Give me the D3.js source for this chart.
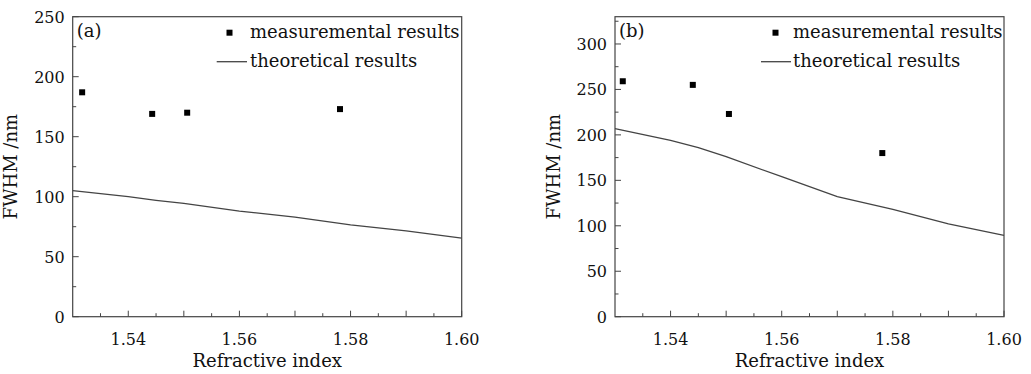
<!DOCTYPE html>
<html lang="en">
  <head>
    <meta charset="utf-8" />
    <title>FWHM vs refractive index</title>
    <script type="text/javascript" src="https://cdn.jsdelivr.net/npm/d3@7"></script>
    <style type="text/css">
      body {
        margin: 0;
        background: #fff;
      }
      text {
        font-family: "DejaVu Serif", serif;
        fill: #111;
      }
      .frame {
        fill: none;
        stroke: #444;
        stroke-width: 1.2;
      }
      .theory {
        fill: none;
        stroke: #444;
        stroke-width: 1.3;
      }
    </style>
  </head>
  <body>
    <script type="text/javascript">
      var w = 1031;
      var h = 374;

      var measIndexA = [1.5317, 1.5443, 1.5506, 1.5781];
      var measFwhmA = [187, 169, 170, 173];
      var measIndexB = [1.5314, 1.544, 1.5505, 1.5781];
      var measFwhmB = [259, 255, 223, 180];

      // theoretical curves
      var theoryIndex = [1.53, 1.54, 1.545, 1.55, 1.56, 1.57, 1.58, 1.59, 1.6];
      var theoryFwhmA = [105, 100, 97, 94.5, 88, 83, 76.5, 71.5, 65.5];
      var theoryFwhmB = [207, 194, 186, 176, 154, 132, 118, 102, 89.5];

      var xTickLabels = [1.54, 1.56, 1.58, 1.6];
      var yTicksA = [0, 50, 100, 150, 200, 250];
      var yTicksB = [0, 50, 100, 150, 200, 250, 300];

      var svg = d3
        .select("body")
        .append("svg")
        .attr("width", w)
        .attr("height", h);

      function drawPanel(opt) {
        var xScale = d3.scaleLinear().domain([1.53, 1.6]).range([opt.left, opt.right]);
        var yScale = d3.scaleLinear().domain([0, opt.yMax]).range([opt.bottom, opt.top]);
        var g = svg.append("g");

        // minor / major x ticks, pointing inward
        var xMinor = d3.range(1.535, 1.6, 0.005).map(function (d) {
          return +d.toFixed(3);
        });
        g.selectAll(".xt")
          .data(xMinor)
          .enter()
          .append("line")
          .attr("x1", function (d) { return xScale(d); })
          .attr("x2", function (d) { return xScale(d); })
          .attr("y1", opt.bottom)
          .attr("y2", function (d, i) {
            return opt.bottom - (i % 2 === 1 ? 6 : 3.5);
          })
          .attr("stroke", "#444")
          .attr("stroke-width", 1);

        g.selectAll(".xl")
          .data(xTickLabels)
          .enter()
          .append("text")
          .attr("x", function (d) { return xScale(d); })
          .attr("y", opt.bottom + 28)
          .attr("text-anchor", "middle")
          .attr("font-size", 16)
          .text(function (d) { return d.toFixed(2); });

        // y ticks
        var yMinor = d3.range(0, opt.yMax + 1, 25).filter(function (d) { return d <= opt.yMax; });
        g.selectAll(".yt")
          .data(yMinor)
          .enter()
          .append("line")
          .attr("x1", opt.left)
          .attr("x2", function (d) {
            return opt.left + (d % 50 === 0 ? 6 : 3.5);
          })
          .attr("y1", function (d) { return yScale(d); })
          .attr("y2", function (d) { return yScale(d); })
          .attr("stroke", "#444")
          .attr("stroke-width", 1);

        g.selectAll(".yl")
          .data(opt.yTicks)
          .enter()
          .append("text")
          .attr("x", opt.left - 8)
          .attr("y", function (d) { return yScale(d) + 6; })
          .attr("text-anchor", "end")
          .attr("font-size", 16)
          .text(function (d) { return d; });

        // frame
        g.append("rect")
          .attr("class", "frame")
          .attr("x", opt.left)
          .attr("y", opt.top)
          .attr("width", opt.right - opt.left)
          .attr("height", opt.bottom - opt.top);

        // theory line
        var line = d3
          .line()
          .x(function (d) { return xScale(d[0]); })
          .y(function (d) { return yScale(d[1]); });
        g.append("path")
          .attr("class", "theory")
          .attr("d", line(d3.zip(theoryIndex, opt.theory)));

        // measured squares
        g.selectAll(".pt")
          .data(d3.zip(opt.measX, opt.measY))
          .enter()
          .append("rect")
          .attr("x", function (d) { return xScale(d[0]) - 3; })
          .attr("y", function (d) { return yScale(d[1]) - 3; })
          .attr("width", 6)
          .attr("height", 6)
          .attr("fill", "#000");

        // axis titles
        g.append("text")
          .attr("x", (opt.left + opt.right) / 2)
          .attr("y", opt.bottom + 50)
          .attr("text-anchor", "middle")
          .attr("font-size", 18)
          .text("Refractive index");
        g.append("text")
          .attr("transform", "translate(" + (opt.left - opt.yTitleGap) + "," + (opt.top + opt.bottom) / 2 + ") rotate(-90)")
          .attr("text-anchor", "middle")
          .attr("font-size", 18)
          .text("FWHM /nm");

        // panel tag
        g.append("text")
          .attr("x", opt.left + 4)
          .attr("y", opt.top + 20)
          .attr("font-size", 18)
          .text(opt.tag);

        // legend
        g.append("rect")
          .attr("x", opt.legX - 3)
          .attr("y", opt.top + 16 - 3)
          .attr("width", 6)
          .attr("height", 6)
          .attr("fill", "#000");
        g.append("text")
          .attr("x", opt.legText)
          .attr("y", opt.top + 21)
          .attr("font-size", 18)
          .text("measuremental results");
        g.append("line")
          .attr("x1", opt.legLine[0])
          .attr("x2", opt.legLine[1])
          .attr("y1", opt.top + 45)
          .attr("y2", opt.top + 45)
          .attr("stroke", "#444")
          .attr("stroke-width", 1.3);
        g.append("text")
          .attr("x", opt.legText)
          .attr("y", opt.top + 50)
          .attr("font-size", 18)
          .text("theoretical results");
      }

      drawPanel({
        left: 72.7, right: 461.7, top: 16.7, bottom: 316.7,
        yMax: 250, yTicks: yTicksA, yTitleGap: 56,
        measX: measIndexA, measY: measFwhmA, theory: theoryFwhmA,
        tag: "(a)", legX: 229.5, legText: 250, legLine: [216.7, 247]
      });
      drawPanel({
        left: 615, right: 1004, top: 16.7, bottom: 316.7,
        yMax: 330, yTicks: yTicksB, yTitleGap: 55,
        measX: measIndexB, measY: measFwhmB, theory: theoryFwhmB,
        tag: "(b)", legX: 775.5, legText: 793, legLine: [761, 791]
      });
    </script>
  </body>
</html>
